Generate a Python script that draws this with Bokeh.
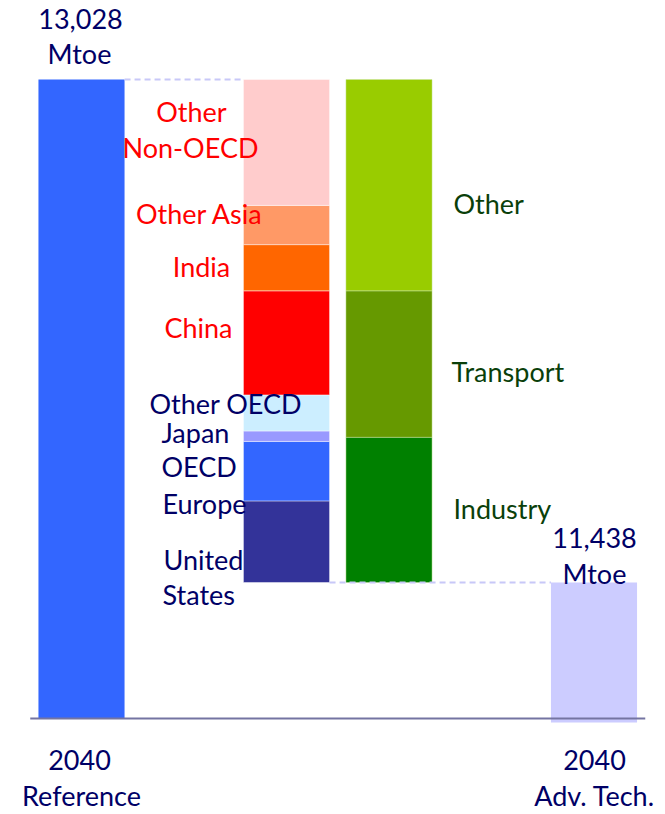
from bokeh.plotting import figure
from bokeh.models import Range1d, ColumnDataSource
from bokeh.core.properties import value
from bokeh.embed import file_html
from bokeh.resources import INLINE

# ---------------- data ----------------
reference_total = 13028
advtech_total = 11438
axis_floor = 11008

regions = ["United States", "OECD Europe", "Japan", "Other OECD",
           "China", "India", "Other Asia", "Other Non-OECD"]
region_savings = [258, 188, 33, 114, 329, 146, 124, 398]

sectors = ["Industry", "Transport", "Other"]
sector_savings = [459, 463, 668]

column_labels = [("2040", "Reference"), ("2040", "Adv. Tech.")]

# ---------------- styles ----------------
region_colors = ["#333399", "#3366ff", "#9999ff", "#cceeff",
                 "#ff0000", "#ff6600", "#ff9966", "#ffcccc"]
sector_colors = ["#008000", "#669900", "#99cc00"]
NAVY = "#000066"
RED = "#ff0000"
GREEN = "#0a3f0a"
FONT = "Lato"
FS = "27px"
TEXT_SHIFT = 10  # renderer draws alphabetic baseline this many px lower

W, H = 665, 814
SLOT_PX = 102.5
X0_PX = 81
SCALE = (582 - 79) / (reference_total - advtech_total)  # px per Mtoe
Y_TOP = reference_total + 79 / SCALE
Y_BOT = Y_TOP - H / SCALE


def xd(px):
    return (px - X0_PX) / SLOT_PX


def yd(py):
    return Y_TOP - py / SCALE


p = figure(width=W, height=H, output_backend="svg", toolbar_location=None,
           x_range=Range1d(xd(0), xd(W)), y_range=Range1d(Y_BOT, Y_TOP),
           min_border=0, min_border_left=0, min_border_right=0,
           min_border_top=0, min_border_bottom=0)
p.axis.visible = False
p.grid.visible = False
p.outline_line_color = None
p.background_fill_color = "white"
p.border_fill_color = "white"

BW = 0.84
REF_X, REG_X, SEC_X, ADV_X = 0, 2, 3, 5

# Reference bar
p.vbar(x=[REF_X], width=BW, bottom=[axis_floor], top=[reference_total],
       fill_color="#3366ff", line_color=None)

# Region stack
r_bottoms, r_tops = [], []
acc = advtech_total
for v in region_savings:
    r_bottoms.append(acc)
    acc += v
    r_tops.append(acc)
p.vbar(source=ColumnDataSource(dict(x=[REG_X] * len(regions), b=r_bottoms, t=r_tops,
                                    c=region_colors, name=regions)),
       x="x", bottom="b", top="t", width=BW, fill_color="c",
       line_color="white", line_alpha=0.55, line_width=0.8)

# Sector stack
s_bottoms, s_tops = [], []
acc = advtech_total
for v in sector_savings:
    s_bottoms.append(acc)
    acc += v
    s_tops.append(acc)
p.vbar(source=ColumnDataSource(dict(x=[SEC_X] * len(sectors), b=s_bottoms, t=s_tops,
                                    c=sector_colors, name=sectors)),
       x="x", bottom="b", top="t", width=BW, fill_color="c",
       line_color="#c8e6a0", line_alpha=0.6, line_width=0.8)

# Adv. Tech bar
p.vbar(x=[ADV_X], width=BW, bottom=[axis_floor - 4 / SCALE], top=[advtech_total],
       fill_color="#ccccff", line_color=None)

# dashed connectors
p.segment(x0=[REF_X + BW / 2, REG_X + BW / 2], x1=[REG_X - BW / 2, ADV_X - BW / 2],
          y0=[reference_total, advtech_total], y1=[reference_total, advtech_total],
          line_color="#c8c8f8", line_width=2, line_dash="6 4")

# baseline
p.segment(x0=[-0.5], x1=[5.5], y0=[axis_floor], y1=[axis_floor],
          line_color="#7474a2", line_width=2)


def txt(items, color, align):
    xs = [xd(a) for a, b, s in items]
    ys = [yd(b - TEXT_SHIFT) for a, b, s in items]
    ss = [s for a, b, s in items]
    p.text(x=xs, y=ys, text=ss, text_color=color, text_font=value(FONT),
           text_font_size=value(FS), text_align=align, text_baseline="alphabetic")


ref_txt = f"{reference_total:,}"
adv_txt = f"{advtech_total:,}"

# totals and column labels
txt([(80, 28, ref_txt), (79, 63, "Mtoe"),
     (594, 547, adv_txt), (594, 583, "Mtoe"),
     (79, 769, column_labels[0][0]), (81, 805, column_labels[0][1]),
     (594, 769, column_labels[1][0]), (594, 805, column_labels[1][1])],
    NAVY, "center")

# non-OECD region labels (red, centered)
txt([(191, 121, "Other"), (190, 157, "Non-OECD"), (199, 223, regions[6]),
     (201, 276, regions[5]), (198, 337, regions[4])], RED, "center")

# OECD region labels (navy, left)
txt([(149, 413, regions[3]), (161, 442, regions[2]), (161, 476, "OECD"),
     (162, 513, "Europe"), (163, 569, "United"), (162, 604, "States")], NAVY, "left")

# sector labels
txt([(453, 213, sectors[2]), (451, 381, sectors[1]), (453, 518, sectors[0])], GREEN, "left")

open("out.html", "w").write(file_html(p, INLINE))
